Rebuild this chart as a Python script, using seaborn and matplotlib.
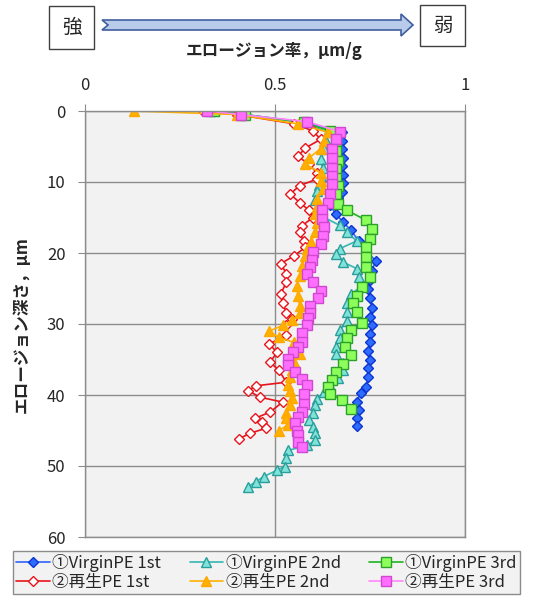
import matplotlib
matplotlib.use("Agg")
import matplotlib.pyplot as plt
import seaborn as sns
from matplotlib.patches import Polygon, Rectangle

# depth (um) / erosion rate (um/g)
v1_depth = [0, 0.5, 1.6, 3, 4.2, 5.4, 6.6, 7.8, 9.0, 10.2, 11.4, 12.2, 13.3, 14.5, 15.7, 16.8,
            18.3, 19.7, 21.1, 22.5, 23.8, 25.0, 26.3, 27.7, 29.0, 30.2, 31.4, 32.6, 33.8, 35.0,
            36.2, 37.4, 38.9, 39.7, 41.0, 42.1, 43.3, 44.4]
v1_rate = [0.34, 0.42, 0.58, 0.675, 0.675, 0.675, 0.68, 0.675, 0.68, 0.68, 0.675, 0.665, 0.645,
           0.66, 0.68, 0.70, 0.72, 0.74, 0.765, 0.755, 0.75, 0.745, 0.75, 0.755, 0.75, 0.755,
           0.75, 0.75, 0.745, 0.75, 0.745, 0.745, 0.74, 0.725, 0.715, 0.72, 0.715, 0.715]

v2_depth = [0, 0.5, 1.6, 3, 4.2, 5.4, 6.8, 8, 9.2, 10.4, 11.3, 12.6, 13.8, 15, 16.1, 17.1, 18.3,
            19.4, 20.2, 21.3, 22.2, 23.4, 24.6, 25.8, 27.1, 28.3, 29.6, 30.9, 32, 33.3, 34.2,
            35.5, 36.5, 37.6, 38.7, 39.6, 40.5, 41.4, 42.6, 43.5, 44.5, 45.4, 46.4, 47.1, 47.8,
            48.9, 50.1, 50.6, 51.5, 52.2, 52.9]
v2_rate = [0.33, 0.41, 0.57, 0.64, 0.635, 0.63, 0.62, 0.625, 0.62, 0.615, 0.61, 0.605, 0.61,
           0.63, 0.67, 0.69, 0.715, 0.67, 0.66, 0.68, 0.715, 0.72, 0.73, 0.70, 0.69, 0.69, 0.69,
           0.67, 0.67, 0.66, 0.66, 0.68, 0.68, 0.665, 0.645, 0.63, 0.61, 0.605, 0.60, 0.59, 0.60,
           0.605, 0.605, 0.585, 0.535, 0.53, 0.525, 0.505, 0.47, 0.45, 0.43]

v3_depth = [0, 0.5, 1.6, 2.8, 4.2, 5.6, 7.0, 8.2, 9.4, 10.6, 11.7, 13.1, 14, 15.4, 16.6, 18,
            19.2, 20.6, 22, 23.4, 24.8, 26, 27.1, 28.3, 29.9, 30.9, 32, 33.2, 34.4, 35.6, 36.8,
            37.9, 38.9, 39.8, 40.7, 42]
v3_rate = [0.34, 0.42, 0.575, 0.645, 0.66, 0.66, 0.665, 0.66, 0.66, 0.665, 0.66, 0.665, 0.69,
           0.74, 0.755, 0.75, 0.74, 0.74, 0.74, 0.75, 0.73, 0.715, 0.705, 0.715, 0.73, 0.70,
           0.69, 0.685, 0.70, 0.68, 0.66, 0.65, 0.64, 0.645, 0.675, 0.70]

r1_depth = [0, 0.5, 1.8, 2.8, 4, 5.2, 6.4, 7.5, 8.7, 9.6, 10.5, 11.7, 12.9, 14, 15, 16.2, 17.1,
            18.3, 19.2, 20.4, 21.5, 22.9, 24.1, 25.8, 27, 28.4, 29.3, 30.2, 31.6, 32.8, 34, 35.4,
            36.5, 38.2, 38.7, 39.4, 40.3, 41, 42.4, 43.3, 43.8, 44.7, 45.4, 46.2]
r1_rate = [0.31, 0.40, 0.55, 0.60, 0.62, 0.58, 0.56, 0.59, 0.61, 0.61, 0.565, 0.54, 0.565, 0.59,
           0.60, 0.57, 0.565, 0.575, 0.58, 0.55, 0.515, 0.53, 0.53, 0.515, 0.52, 0.53, 0.545,
           0.53, 0.53, 0.485, 0.505, 0.487, 0.51, 0.53, 0.45, 0.43, 0.46, 0.52, 0.487, 0.447,
           0.465, 0.475, 0.434, 0.404]

r2_depth = [0, 0.5, 1.8, 3, 4.2, 5.3, 6.6, 7.5, 8.7, 9.8, 11, 12.4, 13.5, 14.5, 15.8, 17.1, 18.5,
            19.5, 20.4, 21.8, 23.2, 24.6, 26, 27.4, 28.5, 29.5, 30.2, 31, 31.9, 32.6, 34.2, 35.3,
            36.5, 37.5, 38.6, 39.4, 40.4, 41.4, 42.6, 43.3, 44.2, 45]
r2_rate = [0.13, 0.40, 0.56, 0.64, 0.63, 0.62, 0.59, 0.58, 0.62, 0.62, 0.625, 0.61, 0.61, 0.605,
           0.61, 0.605, 0.595, 0.585, 0.58, 0.57, 0.565, 0.557, 0.56, 0.565, 0.565, 0.545, 0.52,
           0.485, 0.51, 0.55, 0.565, 0.55, 0.545, 0.54, 0.535, 0.54, 0.545, 0.54, 0.53, 0.53,
           0.535, 0.51]

r3_depth = [0, 0.5, 1.5, 2.9, 3.9, 5.4, 6.6, 8, 9.1, 10.3, 11.7, 12.9, 14, 15.2, 16.4, 17.6, 18.7,
            19.9, 21, 22, 22.9, 24.1, 25.3, 26.4, 27.4, 28.4, 29.2, 30.2, 31.3, 32.5, 33.2, 34,
            34.9, 35.8, 36.8, 37.7, 38.6, 39.8, 41.2, 42.4, 43.1, 44, 45, 45.7, 46.6, 47.3]
r3_rate = [0.32, 0.41, 0.585, 0.67, 0.66, 0.65, 0.65, 0.65, 0.65, 0.65, 0.645, 0.64, 0.623,
           0.623, 0.63, 0.627, 0.62, 0.60, 0.598, 0.593, 0.585, 0.60, 0.62, 0.613, 0.593, 0.593,
           0.587, 0.585, 0.572, 0.572, 0.56, 0.548, 0.535, 0.535, 0.553, 0.57, 0.585, 0.575,
           0.575, 0.57, 0.56, 0.553, 0.557, 0.56, 0.56, 0.57]

labels = ['①VirginPE 1st', '①VirginPE 2nd', '①VirginPE 3rd',
          '②再生PE 1st', '②再生PE 2nd', '②再生PE 3rd']

series = [
    (v1_rate, v1_depth, dict(color='#2f62ff', marker='D', ms=5.5, mfc='#2f6bff', mec='#0a35d0')),
    (v2_rate, v2_depth, dict(color='#33b8b4', marker='^', ms=7, mfc='#80e3da', mec='#2a9e9a')),
    (v3_rate, v3_depth, dict(color='#1fb51f', marker='s', ms=6.5, mfc='#8cff5a', mec='#2ca02c')),
    (r1_rate, r1_depth, dict(color='#e8141c', marker='D', ms=5.5, mfc='white', mec='#e8141c')),
    (r2_rate, r2_depth, dict(color='#ffb000', marker='^', ms=7, mfc='#ffb000', mec='#ffa800')),
    (r3_rate, r3_depth, dict(color='#ff85ff', marker='s', ms=6.5, mfc='#ff6eff', mec='#d048d0')),
]

sns.set_style('white')
plt.rcParams['font.family'] = ['Noto Sans CJK JP', 'DejaVu Sans']

W, H = 540, 599
fig = plt.figure(figsize=(W / 100, H / 100), dpi=100)


def fx(px):
    return px / W


def fy(py):
    return 1 - py / H


ax = fig.add_axes([fx(85), fy(537), fx(465) - fx(85), fy(111) - fy(537)])
ax.set_facecolor('#f2f2f2')

for (x, y, st), lab in zip(series, labels):
    sns.lineplot(x=x, y=y, sort=False, estimator=None, ax=ax, label=lab,
                 color=st['color'], marker=st['marker'], markersize=st['ms'],
                 markerfacecolor=st['mfc'], markeredgecolor=st['mec'],
                 markeredgewidth=1.0, linewidth=1.2)

ax.set_xlim(0, 1)
ax.set_ylim(60, 0)
ax.set_xticks([0, 0.5, 1])
ax.set_xticklabels(['0', '0.5', '1'])
ax.set_yticks(range(0, 61, 10))
ax.set_xlabel('')
ax.set_ylabel('')
ax.grid(True, color='#8c8c8c', linewidth=1)
for s in ax.spines.values():
    s.set_color('#8c8c8c')
    s.set_linewidth(1)
ax.tick_params(axis='x', top=True, bottom=False, labeltop=True, labelbottom=False,
               length=5, color='#8c8c8c', pad=7, labelsize=12)
ax.tick_params(axis='y', left=True, length=5, color='#8c8c8c', pad=9, labelsize=12)

# legend is filled column by column, so reorder to read row by row
handles, labs = ax.get_legend_handles_labels()
ax.get_legend().remove()
order = [0, 3, 1, 4, 2, 5]
leg = fig.legend([handles[i] for i in order], [labs[i] for i in order], ncol=3, loc='lower left',
                 bbox_to_anchor=(fx(13), fy(594), fx(520) - fx(13), fy(547) - fy(594)),
                 mode='expand', fontsize=12, frameon=True, fancybox=False,
                 edgecolor='#8c8c8c', facecolor='#f2f2f2', framealpha=1,
                 handlelength=2.0, handletextpad=0.15, borderpad=0.2,
                 labelspacing=0.1, borderaxespad=0, columnspacing=0.8)
leg.get_frame().set_linewidth(1)

# axis titles
fig.text(fx(274), fy(51), 'エロージョン率，μm/g', ha='center', va='center',
         fontsize=12, fontweight='bold')
fig.text(fx(22), fy(325), 'エロージョン深さ，μm', ha='center', va='center',
         rotation=90, fontsize=12, fontweight='bold')

# 強 -> 弱 arrow
arrow_px = [(102, 20), (401, 20), (401, 14), (413, 25), (401, 36), (401, 30), (102, 30), (108, 25)]
fig.patches.append(Polygon([(fx(a), fy(b)) for a, b in arrow_px], closed=True,
                           transform=fig.transFigure, facecolor='#b9cbea',
                           edgecolor='#3f5f9e', linewidth=1.2))
for x0, y0, x1, y1, t in [(49, 6, 94, 49, '強'), (420, 5, 465, 46, '弱')]:
    fig.patches.append(Rectangle((fx(x0), fy(y1)), fx(x1) - fx(x0), fy(y0) - fy(y1),
                                 transform=fig.transFigure, facecolor='white',
                                 edgecolor='#404040', linewidth=1))
    fig.text(fx((x0 + x1) / 2), fy((y0 + y1) / 2), t, ha='center', va='center', fontsize=14)

fig.savefig('out.png', dpi=100)
